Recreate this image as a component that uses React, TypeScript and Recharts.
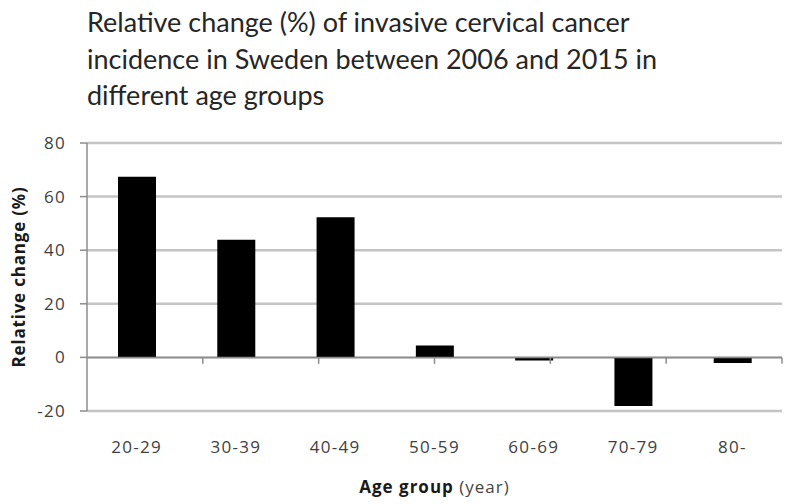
import React from "react";
import { BarChart, Bar, XAxis, YAxis, CartesianGrid, ReferenceLine, Label } from "recharts";

const categories = ["20-29", "30-39", "40-49", "50-59", "60-69", "70-79", "80-"];
const relativeChange = [67.4, 43.9, 52.3, 4.4, -1.2, -18.1, -2.1];
const yTicks = [-20, 0, 20, 40, 60, 80];
const boundaries = [1, 2, 3, 4, 5, 6, 7];
const titleLines = [
  "Relative change (%) of invasive cervical cancer",
  "incidence in Sweden between 2006 and 2015 in",
  "different age groups",
];

const data = categories.map((c, i) => ({ group: c, value: relativeChange[i] }));

const TITLE_FONT = "Lato, 'Open Sans', sans-serif";
const FONT = "'Open Sans', Lato, sans-serif";

const YLabel = (props: any) => {
  const { viewBox } = props;
  const cx = 18;
  const cy = viewBox.y + viewBox.height / 2;
  return (
    <text
      x={cx}
      y={cy}
      transform={`rotate(-90, ${cx}, ${cy})`}
      textAnchor="middle"
      dominantBaseline="central"
      fontFamily={FONT}
      fontSize={17}
      letterSpacing={0.8}
      fontWeight={700}
      fill="#1a1a1a"
    >
      Relative change (%)
    </text>
  );
};

const XLabel = (props: any) => {
  const { viewBox } = props;
  const cx = viewBox.x + viewBox.width / 2;
  return (
    <text
      x={cx}
      y={493}
      textAnchor="middle"
      fontFamily={FONT}
      fontSize={17}
      letterSpacing={1}
      fill="#1a1a1a"
    >
      <tspan fontWeight={700}>Age group</tspan>
      <tspan fill="#444"> (year)</tspan>
    </text>
  );
};

export default function App() {
  return (
    <div style={{ position: "absolute", left: 0, top: 0, width: 790, height: 504, background: "#fff" }}>
      <div
        style={{
          position: "absolute",
          left: 87,
          top: 4,
          fontFamily: TITLE_FONT,
          fontSize: 27,
          lineHeight: "36.5px",
          color: "#262626",
          whiteSpace: "nowrap",
        }}
      >
        {titleLines.map((l) => (
          <div key={l}>{l}</div>
        ))}
      </div>
      <div style={{ position: "absolute", left: 0, top: 0 }}>
        <BarChart
          width={790}
          height={504}
          data={data}
          margin={{ top: 143, right: 8, bottom: 33, left: 0 }}
          barSize={38}
        >
          <CartesianGrid vertical={false} stroke="#c4c4c4" strokeWidth={2.5} />
          <XAxis
            dataKey="group"
            axisLine={false}
            tickLine={false}
            height={60}
            tickMargin={24}
            tick={{ fontFamily: FONT, fontSize: 17, fill: "#404040", letterSpacing: 1.3 }}
          >
            <Label content={<XLabel />} />
          </XAxis>
          <XAxis xAxisId="num" type="number" domain={[0, 7]} hide allowDataOverflow />
          <YAxis
            domain={[-20, 80]}
            ticks={yTicks}
            width={87}
            interval={0}
            axisLine={{ stroke: "#8c8c8c", strokeWidth: 1.5 }}
            tickLine={{ stroke: "#8c8c8c", strokeWidth: 1.5 }}
            tickSize={7}
            tickMargin={14}
            tick={{ fontFamily: FONT, fontSize: 17, fill: "#404040", letterSpacing: 1.3 }}
          >
            <Label content={<YLabel />} />
          </YAxis>
          <ReferenceLine y={0} stroke="#8c8c8c" strokeWidth={1.5} />
          {boundaries.map((b) => (
            <ReferenceLine
              key={b}
              xAxisId="num"
              segment={[
                { x: b, y: 0 },
                { x: b, y: -2.4 },
              ]}
              stroke="#8c8c8c"
              strokeWidth={1.5}
            />
          ))}
          <Bar dataKey="value" fill="#000" isAnimationActive={false} />
        </BarChart>
      </div>
    </div>
  );
}
